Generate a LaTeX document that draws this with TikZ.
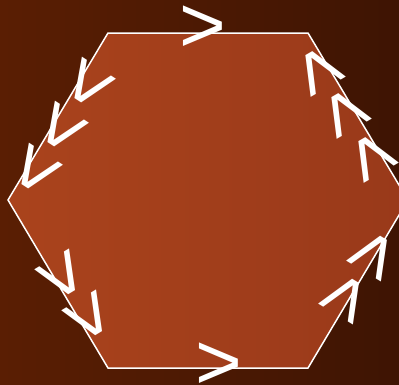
\documentclass[tikz,border=0pt]{standalone}
\usepackage{fontspec}
\setmainfont{Liberation Sans}
\definecolor{bgleft}{RGB}{90,30,3}
\definecolor{bgright}{RGB}{62,20,3}
\definecolor{hexleft}{RGB}{170,67,28}
\definecolor{hexright}{RGB}{153,57,26}
\tikzset{
  chev/.style={text=white, inner sep=0pt, font=\fontsize{80}{80}\selectfont},
  hexline/.style={draw=white, line width=1.5pt, line join=miter}
}
\newcommand{\chevglyph}{\smash{\raisebox{-0.344em}{>}}}
\begin{document}
\begin{tikzpicture}[x=1pt,y=-1pt]
\useasboundingbox (0,0) rectangle (399,384);
\clip (0,0) rectangle (399,384);
\shade[left color=bgleft, right color=bgright] (0,0) rectangle (399,384);
\shade[left color=hexleft, right color=hexright]
  (108,33) -- (308,33) -- (408,200) -- (308,368) -- (108,368) -- (8,200) -- cycle;
\draw[hexline] (108,33) -- (308,33) -- (408,200) -- (308,368) -- (108,368) -- (8,200) -- cycle;
% top and bottom
\node[chev, rotate=0] (t1) at (203,25) {\chevglyph};
\node[chev, rotate=0] (b1) at (219,362) {\chevglyph};
% upper right edge
\node[chev, rotate=120] (ur1) at (318,71) {\chevglyph};
\node[chev, rotate=120] (ur2) at (343.5,113.5) {\chevglyph};
\node[chev, rotate=120] (ur3) at (370.5,157) {\chevglyph};
% upper left edge
\node[chev, rotate=237] (ul1) at (90,85) {\chevglyph};
\node[chev, rotate=237] (ul2) at (63,129) {\chevglyph};
\node[chev, rotate=237] (ul3) at (36.5,171) {\chevglyph};
% lower left edge
\node[chev, rotate=-59] (ll1) at (63,275.5) {\chevglyph};
\node[chev, rotate=-59] (ll2) at (90.5,316.5) {\chevglyph};
% lower right edge
\node[chev, rotate=59] (lr1) at (372.5,254.5) {\chevglyph};
\node[chev, rotate=59] (lr2) at (345,297.5) {\chevglyph};
\end{tikzpicture}
\end{document}
